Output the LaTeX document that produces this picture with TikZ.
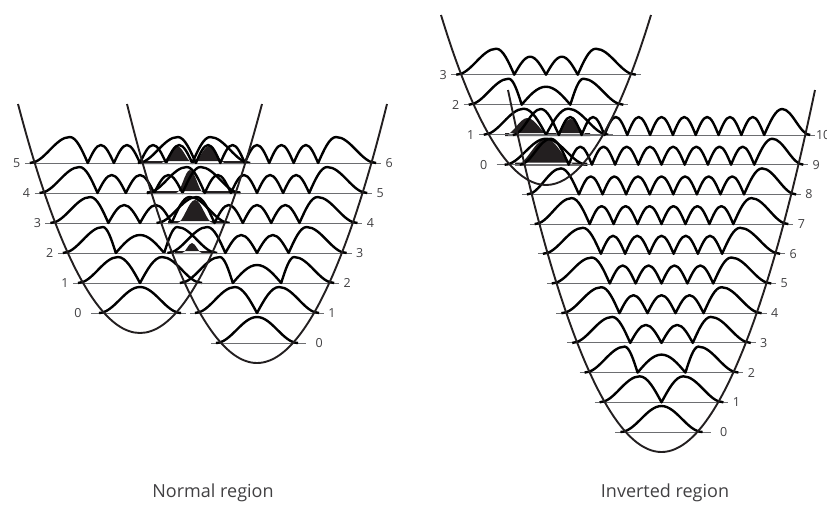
\documentclass[tikz,border=0pt]{standalone}
\usepackage{fontspec}
\setmainfont{Open Sans}
\usepackage{tikz}
\definecolor{ink}{HTML}{231F20}
\definecolor{rulegray}{HTML}{6D6E71}
\definecolor{labelgray}{HTML}{414042}

% one vibrational level: |psi| sketched with sin/cos pieces
\newcommand{\wleft}{({\wX-\wW},\wY) cos ({\wX-(\wW+\wP)/2},{\wY-13}) sin ({\wX-\wP},{\wY-26}) cos ({\wX-\wU},\wY)}
\newcommand{\wright}{sin ({\wX+\wP},{\wY-26}) cos ({\wX+(\wW+\wP)/2},{\wY-13}) sin ({\wX+\wW},\wY)}
\newcommand{\winner}{\foreach \j in {1,...,\wM}{ sin ({\wX-\wU+(\j-0.5)*\wB},{\wY-18}) cos ({\wX-\wU+\j*\wB},\wY) }}
\newcommand{\levelpath}[4]{% centre x, baseline y, level, depth of baseline
  \pgfmathsetmacro\wX{#1}%
  \pgfmathsetmacro\wY{#2}%
  \pgfmathsetmacro\wW{8.07*sqrt(#4)+5}%
  \pgfmathsetmacro\wP{\wW-(#3<7 ? 40 : 40-3*(#3-6))}%
  \pgfmathsetmacro\wU{#3<2 ? 0 : \wP-(#3<3 ? 13 : 18)}%
  \pgfmathtruncatemacro\wM{max(#3-1,1)}%
  \pgfmathsetmacro\wB{2*\wU/\wM}%
  \ifcase#3
    \def\wpath{({\wX-\wW},\wY) cos ({\wX-\wW/2},{\wY-13}) sin (\wX,{\wY-26})
      cos ({\wX+\wW/2},{\wY-13}) sin ({\wX+\wW},\wY)}%
  \or
    \def\wpath{\wleft\wright}%
  \else
    \def\wpath{\wleft\winner\wright}%
  \fi}
% filled overlap bump: centre x, baseline y, half width, height
\newcommand{\bell}[4]{({#1-#3},#2) cos ({#1-#3/2},{#2-#4/2}) sin (#1,{#2-#4})
  cos ({#1+#3/2},{#2-#4/2}) sin ({#1+#3},#2)}

\tikzset{
  well/.style={draw=ink,line width=1.9pt},
  wave/.style={draw=black,line width=2.4pt,line join=round},
  level/.style={draw=rulegray,line width=0.9pt},
  overlap/.style={fill=ink},
  lvl/.style={text=labelgray,font=\fontsize{12.5}{12.5}\selectfont,inner sep=0pt},
  caption/.style={text=labelgray,font=\fontsize{18}{18}\selectfont}
}

\begin{document}
\begin{tikzpicture}[x=1pt,y=-1pt]
  \useasboundingbox (0,0) rectangle (827,507);

  % overlaps
  \fill[overlap] \bell{177}{163}{16}{17} \bell{209}{163}{16}{17}
    (140,161) rectangle (245,164);
  \fill[overlap] \bell{190}{193}{14}{23} (147,191) rectangle (240,194);
  \fill[overlap] \bell{195}{223}{18}{23} (168,221) rectangle (225,224);
  \fill[overlap] \bell{192}{253}{10}{10} (175,251) rectangle (212,254);
  \fill[overlap] \bell{527.5}{135}{22.5}{17} \bell{570.5}{135}{17.5}{16}
    (505,133) rectangle (590,136);
  \fill[overlap] \bell{546}{164.7}{30}{26} (515,162.7) rectangle (587,165.7);

  % normal region, left well
  \foreach \n in {0,...,5}{
    \pgfmathsetmacro\ly{313-30*\n}
    \pgfmathsetmacro\hw{8.07*sqrt(333-\ly)}
    \draw[level] ({140-\hw-(\n==0 ? 13 : 10)},\ly) -- ({140+\hw+10},\ly);
    \node[lvl] (a\n) at ({140-\hw-(\n==0 ? 26 : 18)},\ly) {\n};
    \levelpath{140}{\ly}{\n}{333-\ly}
    \draw[wave] \wpath;
  }
  % normal region, right well
  \foreach \n in {0,...,6}{
    \pgfmathsetmacro\ly{343-30*\n}
    \pgfmathsetmacro\hw{8.07*sqrt(363-\ly)}
    \draw[level] ({257-\hw-10},\ly) -- ({257+\hw+(\n==0 ? 13 : 10)},\ly);
    \node[lvl] (b\n) at ({257+\hw+(\n==0 ? 26 : 18)},\ly) {\n};
    \levelpath{257}{\ly}{\n}{363-\ly}
    \draw[wave] \wpath;
  }
  % inverted region, small well
  \foreach \n in {0,...,3}{
    \pgfmathsetmacro\ly{164.7-30*\n}
    \pgfmathsetmacro\hw{8.07*sqrt(185-\ly)}
    \draw[level] ({546-\hw-(\n==0 ? 13 : 10)},\ly) -- ({546+\hw+10},\ly);
    \node[lvl] (c\n) at ({546-\hw-(\n==0 ? 26 : 18)},\ly) {\n};
    \levelpath{546}{\ly}{\n}{185-\ly}
    \draw[wave] \wpath;
  }
  % inverted region, big well
  \foreach \n in {0,...,10}{
    \pgfmathsetmacro\ly{432-29.7*\n}
    \pgfmathsetmacro\hw{8.07*sqrt(452-\ly)}
    \draw[level] ({661.5-\hw-10},\ly) -- ({661.5+\hw+(\n==0 ? 13 : 10)},\ly);
    \node[lvl] (d\n) at ({661.5+\hw+(\n==0 ? 26 : 18)},\ly) {\n};
    \levelpath{661.5}{\ly}{\n}{452-\ly}
    \draw[wave] \wpath;
  }

  % potential wells
  \draw[well] (18,104) parabola bend (140,333) (262,104);
  \draw[well] (127,104) parabola bend (257,363) (387,104);
  \draw[well] (441,15) parabola bend (546,185) (651,15);
  \draw[well] (508,90) parabola bend (661.5,452) (815,90);

  \node[caption] (normal) at (213,493) {Normal region};
  \node[caption] (inverted) at (665,493) {Inverted region};
\end{tikzpicture}
\end{document}
